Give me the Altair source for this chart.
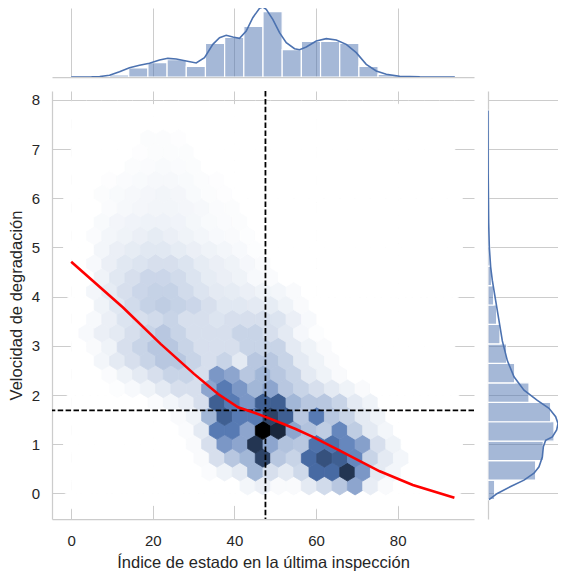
import colorsys
import numpy as np
import pandas as pd
import altair as alt

# ---------------- values ----------------
X_TICKS = [0, 20, 40, 60, 80]
Y_TICKS = [0, 1, 2, 3, 4, 5, 6, 7, 8]
X_DATA_MIN, X_DATA_MAX = 0.0, 94.0
Y_DATA_MIN, Y_DATA_MAX = -0.125, 7.785
GRIDSIZE = 25
MEAN_X = 47.6
MEAN_Y = 1.69

# marginal histograms (20 bins each)
TOP_COUNTS = [0, 0, 6, 27, 43, 52, 32, 101, 119, 152, 196, 82, 107, 107, 101, 32, 8, 0, 0, 0]
RIGHT_COUNTS = [20, 143, 166, 198, 188, 123, 80, 56, 36, 26, 17, 11, 6, 4, 3, 2, 1, 1, 0, 1]

# marginal KDE curves
KDE_X_POS = [0, 5, 7, 9.4, 11.84, 14.29, 16.74, 19.19, 21.64, 23.68, 25.73, 28.18, 30.64,
             32.67, 34.71, 36.35, 37.99, 39.6, 41.25, 42.89, 44.5, 46.15, 46.96, 47.79,
             49.4, 51.05, 52.7, 54.73, 55.96, 57.6, 60.05, 62.5, 64.95, 67.4, 69.85,
             72.3, 74.75, 77.2, 80.5, 85.4, 94]
KDE_X_DEN = [0, 0.5, 1.5, 5, 16, 28, 35, 41, 51, 56, 54, 48, 42,
             58, 98, 118, 125, 120, 116, 138, 178, 206, 210, 203,
             173, 133, 103, 85, 82, 90, 108, 115, 111, 98, 73,
             38, 18, 8, 2, 0.3, 0]
KDE_Y_POS = [7.785, 6.5, 5.5, 5.0, 4.6, 4.33, 3.92, 3.51, 3.10, 2.70, 2.37, 2.10, 1.89,
             1.73, 1.56, 1.42, 1.29, 1.15, 1.08, 0.95, 0.74, 0.54, 0.41, 0.27, 0.14,
             0.0, -0.10, -0.125]
KDE_Y_DEN = [0, 0.5, 2, 4, 8, 13, 23, 33, 43, 58, 78, 108, 148,
             183, 203, 210, 206, 193, 173, 166, 163, 153, 138, 108, 68,
             28, 8, 3]

# red smoothed trend
FIT_X = [0, 12.7, 21.9, 30.1, 36.0, 40.9, 44.9, 48.4, 52.3, 55.0, 59.2, 65.8, 75.6, 83.7, 93.9]
FIT_Y = [4.71, 3.78, 3.04, 2.43, 2.02, 1.75, 1.64, 1.53, 1.40, 1.31, 1.15, 0.87, 0.45, 0.17, -0.09]

# hexbin density (0 = empty, 10 = densest): row -> (first column, values)
HEX_ROWS = {
    1: (11, [0.33, 0.57, 0.18, 0.18, 0.77, 1.3, 2.0, 3.2, 0.64, 0.18]),
    2: (9, [0.13, 0.45, 0.77, 2.6, 1.14, 0.77, 1.38, 5.4, 5.4, 7.7, 3.7, 0.77, 0.33]),
    3: (8, [0.18, 1.14, 2.0, 2.6, 7.1, 2.0, 1.54, 5.4, 6.5, 5.9, 4.3, 1.54, 0.77, 0.33]),
    4: (8, [0.18, 1.14, 3.7, 3.2, 7.7, 3.2, 2.2, 2.0, 5.1, 5.1, 4.3, 3.4, 1.14, 0.45]),
    5: (7, [0.13, 0.77, 4.8, 4.8, 3.2, 10, 8.3, 3.2, 2.2, 1.8, 4.3, 1.8, 0.77, 0.33]),
    6: (7, [0.18, 0.45, 2.6, 5.9, 4.8, 4.8, 7.1, 5.9, 2.0, 4.8, 2.0, 1.54, 0.77, 0.45]),
    7: (5, [0.13, 0.33, 0.57, 1.14, 5.9, 4.8, 3.7, 5.9, 5.9, 2.6, 2.0, 2.0, 1.54, 0.77, 0.45]),
    8: (3, [0.09, 0.22, 0.45, 0.77, 1.14, 1.14, 3.2, 4.8, 3.7, 2.6, 3.2, 2.0, 1.54, 1.14, 0.77, 0.45, 0.18]),
    9: (2, [0.13, 0.45, 0.77, 1.14, 1.54, 1.54, 1.14, 3.7, 3.2, 2.0, 2.6, 2.0, 1.54, 0.77, 0.45, 0.18]),
    10: (2, [0.33, 0.77, 1.14, 1.54, 2.0, 2.0, 1.54, 1.14, 1.54, 0.77, 2.0, 2.0, 1.54, 0.77, 0.45, 0.18]),
    11: (1, [0.18, 0.45, 1.14, 1.54, 2.0, 2.0, 1.54, 1.14, 1.14, 1.14, 1.54, 1.54, 1.54, 0.77, 0.45, 0.18]),
    12: (1, [0.22, 0.57, 0.77, 1.14, 1.54, 2.0, 1.54, 1.14, 1.14, 1.14, 1.54, 1.54, 1.14, 0.77, 0.28, 0.09]),
    13: (1, [0.22, 0.57, 0.99, 1.14, 1.3, 1.54, 1.14, 1.14, 0.99, 1.14, 1.14, 1.14, 0.99, 0.57, 0.22]),
    14: (2, [0.45, 0.84, 1.3, 1.62, 1.79, 1.62, 1.46, 1.14, 0.84, 0.84, 0.77, 0.7, 0.45, 0.18]),
    15: (1, [0.33, 0.7, 1.14, 1.46, 1.62, 1.62, 1.3, 0.99, 0.77, 0.7, 0.57, 0.45, 0.33, 0.18]),
    16: (2, [0.45, 0.84, 1.14, 1.46, 1.46, 1.3, 0.99, 0.7, 0.57, 0.45, 0.22, 0.13]),
    17: (1, [0.22, 0.57, 0.84, 0.99, 1.14, 1.14, 0.99, 0.7, 0.57, 0.45, 0.28, 0.13]),
    18: (2, [0.33, 0.57, 0.7, 0.84, 0.84, 0.7, 0.57, 0.45, 0.33, 0.22, 0.09]),
    19: (1, [0.13, 0.33, 0.45, 0.57, 0.7, 0.57, 0.45, 0.33, 0.22, 0.18, 0.09]),
    20: (2, [0.2, 0.35, 0.42, 0.48, 0.48, 0.42, 0.3, 0.2, 0.14, 0.1]),
    21: (2, [0.15, 0.25, 0.32, 0.38, 0.38, 0.32, 0.25, 0.15, 0.1]),
    22: (2, [0.1, 0.2, 0.26, 0.32, 0.36, 0.32, 0.2, 0.1, 0.06]),
    23: (2, [0.06, 0.15, 0.2, 0.26, 0.26, 0.2, 0.1, 0.06]),
    24: (4, [0.1, 0.15, 0.2, 0.15, 0.1]),
    25: (4, [0.06, 0.12, 0.12, 0.1]),
    26: (5, [0.1, 0.1, 0.06]),
}
LEVEL_MAX = 10

X_TITLE = "Índice de estado en la última inspección"
Y_TITLE = "Velocidad de degradación"

# ---------------- layout / style ----------------
FONT = "Liberation Sans"
TEXT = "#262626"
GRID = "#cccccc"
BLUE = "#4c72b0"
W, H = 422, 428
MARG = 70
TOP_H = 69

XDOM = [-4.7, 98.7]
YDOM = [-0.52, 8.18]

# hex lattice (matplotlib hexbin convention)
nx = GRIDSIZE
ny = int(nx / np.sqrt(3))
sx = (X_DATA_MAX - X_DATA_MIN) / nx
sy = (Y_DATA_MAX - Y_DATA_MIN) / ny
recs = []
for r in range(2 * ny + 1):
    even = r % 2 == 0
    ncol = nx + 1 if even else nx
    yc = Y_DATA_MIN + r * sy / 2
    start, vals = HEX_ROWS.get(r, (0, []))
    for i in range(ncol):
        xc = X_DATA_MIN + (i if even else i + 0.5) * sx
        lv = vals[i - start] if start <= i < start + len(vals) else 0
        recs.append({"hx": xc, "hy": yc, "level": lv})
hex_df = pd.DataFrame(recs)

sx_px = sx * W / (XDOM[1] - XDOM[0])
sy_px = sy * H / (YDOM[1] - YDOM[0])
half_h = sy_px / 3
half_w = sx_px / 2
a = half_w / half_h
HEX_PATH = f"M0,-1L{a:.4f},-0.5L{a:.4f},0.5L0,1L{-a:.4f},0.5L{-a:.4f},-0.5Z"
HEX_SIZE = (2 * half_h) ** 2

r0, g0, b0 = (76 / 255, 114 / 255, 176 / 255)
hh, ll, ss = colorsys.rgb_to_hls(r0, g0, b0)
cols = []
for lv in np.linspace(1, 0, 12):
    rr, gg, bb = colorsys.hls_to_rgb(hh, lv, ss)
    cols.append("#%02x%02x%02x" % (round(rr * 255), round(gg * 255), round(bb * 255)))
cscale = alt.Scale(domain=list(np.linspace(0, LEVEL_MAX, 12)), range=cols, interpolate="rgb")

xscale = alt.Scale(domain=XDOM, nice=False, zero=False)
yscale = alt.Scale(domain=YDOM, nice=False, zero=False)

x_axis = alt.Axis(values=X_TICKS, title=X_TITLE, grid=True, ticks=False,
                  labelPadding=14, titlePadding=6.5)
y_axis = alt.Axis(values=Y_TICKS, title=Y_TITLE, grid=True, ticks=False,
                  labelPadding=12.5, titlePadding=6.5)

# ---------------- main joint panel ----------------
hexes = alt.Chart(hex_df).mark_point(
    shape=HEX_PATH, size=HEX_SIZE, filled=True, opacity=1, strokeWidth=0.8, clip=True
).encode(
    x=alt.X("hx:Q", scale=xscale, axis=x_axis),
    y=alt.Y("hy:Q", scale=yscale, axis=y_axis),
    fill=alt.Fill("level:Q", scale=cscale, legend=None),
    stroke=alt.Stroke("level:Q", scale=cscale, legend=None),
)

vline = alt.Chart(pd.DataFrame({"mx": [MEAN_X]})).mark_rule(
    color="black", strokeWidth=1.8, strokeDash=[5.5, 2.4]
).encode(x=alt.X("mx:Q", scale=xscale, axis=x_axis))

hline = alt.Chart(pd.DataFrame({"my": [MEAN_Y]})).mark_rule(
    color="black", strokeWidth=1.8, strokeDash=[5.5, 2.4]
).encode(y=alt.Y("my:Q", scale=yscale, axis=y_axis))

fit = alt.Chart(pd.DataFrame({"fx": FIT_X, "fy": FIT_Y})).mark_line(
    color="#ff0000", strokeWidth=2.6, clip=True
).encode(
    x=alt.X("fx:Q", scale=xscale, axis=x_axis),
    y=alt.Y("fy:Q", scale=yscale, axis=y_axis),
)

main = alt.layer(hexes, vline, hline, fit).properties(width=W, height=H)

# ---------------- top marginal ----------------
xedges = np.linspace(X_DATA_MIN, X_DATA_MAX, len(TOP_COUNTS) + 1)
top_df = pd.DataFrame({"x0": xedges[:-1], "x1": xedges[1:], "cnt": TOP_COUNTS})
top_axis = alt.Axis(values=X_TICKS, title=None, labels=False, ticks=False, grid=True)
top_y = alt.Scale(domain=[0, TOP_H * 3], nice=False)
top_bars = alt.Chart(top_df).mark_rect(
    fill=BLUE, fillOpacity=0.5, stroke="white", strokeWidth=1.2, clip=True
).encode(
    x=alt.X("x0:Q", scale=xscale, axis=top_axis),
    x2="x1:Q",
    y=alt.Y("cnt:Q", scale=top_y, axis=None),
    y2=alt.datum(0),
)
top_kde = alt.Chart(pd.DataFrame({"kx": KDE_X_POS, "kd": KDE_X_DEN})).mark_line(
    color=BLUE, strokeWidth=1.6, clip=True
).encode(
    x=alt.X("kx:Q", scale=xscale, axis=top_axis),
    y=alt.Y("kd:Q", scale=top_y, axis=None),
)
top = alt.layer(top_bars, top_kde).properties(width=W, height=TOP_H)

# ---------------- right marginal ----------------
yedges = np.linspace(Y_DATA_MIN, Y_DATA_MAX, len(RIGHT_COUNTS) + 1)
right_df = pd.DataFrame({"y0": yedges[:-1], "y1": yedges[1:], "cnt": RIGHT_COUNTS})
right_axis = alt.Axis(values=Y_TICKS, title=None, labels=False, ticks=False, grid=True)
right_x = alt.Scale(domain=[0, MARG * 3], nice=False)
right_bars = alt.Chart(right_df).mark_rect(
    fill=BLUE, fillOpacity=0.5, stroke="white", strokeWidth=1.2, clip=True
).encode(
    y=alt.Y("y0:Q", scale=yscale, axis=right_axis),
    y2="y1:Q",
    x=alt.X("cnt:Q", scale=right_x, axis=None),
    x2=alt.datum(0),
)
right_kde = alt.Chart(pd.DataFrame({"ky": KDE_Y_POS, "kd": KDE_Y_DEN})).mark_line(
    color=BLUE, strokeWidth=1.6, clip=True
).encode(
    y=alt.Y("ky:Q", scale=yscale, axis=right_axis),
    x=alt.X("kd:Q", scale=right_x, axis=None),
    order="ky:Q",
)
right = alt.layer(right_bars, right_kde).properties(width=MARG, height=H)

empty = alt.Chart(pd.DataFrame({"e": [0]})).mark_point(opacity=0).encode(
    x=alt.X("e:Q", axis=None), y=alt.Y("e:Q", axis=None)
).properties(width=MARG, height=TOP_H)

chart = alt.concat(top, empty, main, right, columns=2, spacing=13, align="each").properties(
    padding=0, background="white"
).configure_view(stroke=None).configure_axis(
    domainColor=GRID, domainWidth=1.25, gridColor=GRID, gridWidth=1,
    labelColor=TEXT, titleColor=TEXT, labelFont=FONT, titleFont=FONT,
    labelFontSize=15, titleFontSize=16.5, titleFontWeight="normal", ticks=False,
)

chart.save("out.html", embed_options={"renderer": "svg", "actions": False})
